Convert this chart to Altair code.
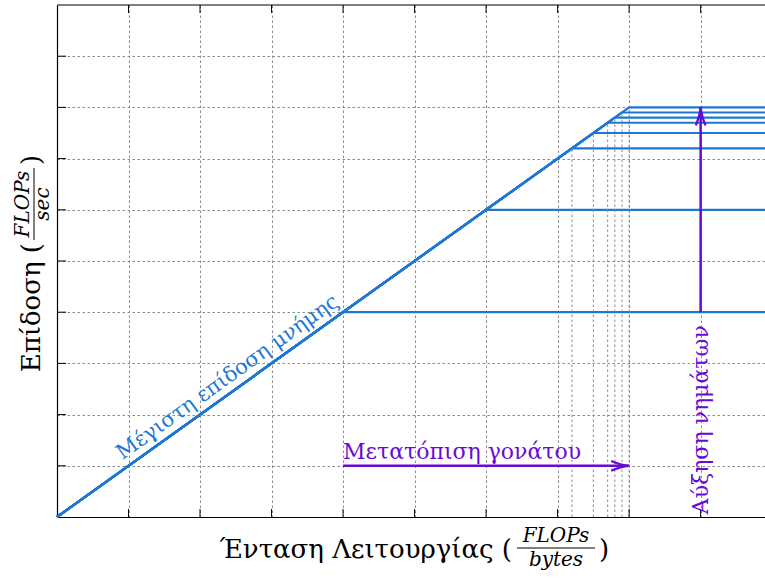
import altair as alt
import pandas as pd

# Roofline model: memory-bound slope y = x and a compute ceiling for each knee
knees = [4.0, 6.0, 7.2, 7.5, 7.7, 7.8, 7.9, 8.0]
x_max = 9.9
y_max = 10.0
grid_ticks = [1, 2, 3, 4, 5, 6, 7, 8, 9]

# Annotation arrows (data coordinates)
shift_from, shift_to, shift_y = 4.0, 8.0, 1.0      # knee shift arrow
threads_x, threads_from, threads_to = 9.0, 4.0, 8.0  # thread increase arrow

BLUE = "#1f77d4"
VIOLET = "#6a0ad8"
GRID = "#8c8c8c"
FONT = "DejaVu Serif"
W, H = 708, 512

roof_rows = []
for i, k in enumerate(knees):
    roof_rows += [
        {"roof": i, "step": 0, "x": 0.0, "y": 0.0},
        {"roof": i, "step": 1, "x": k, "y": k},
        {"roof": i, "step": 2, "x": x_max, "y": k},
    ]
roofs = pd.DataFrame(roof_rows)

xscale = alt.Scale(domain=[0, x_max], nice=False, zero=False)
yscale = alt.Scale(domain=[0, y_max], nice=False, zero=False)

axis_common = dict(
    values=grid_ticks, grid=True, gridDash=[2.5, 2.5], gridColor=GRID,
    gridWidth=1, gridOpacity=1, labels=False, ticks=False,
    domainColor="black", domainWidth=1.2, title=None,
)

lines = alt.Chart(roofs).mark_line(color=BLUE, strokeWidth=2.2).encode(
    x=alt.X("x:Q", scale=xscale, axis=alt.Axis(**axis_common)),
    y=alt.Y("y:Q", scale=yscale, axis=alt.Axis(**axis_common)),
    detail="roof:N",
    order="step:Q",
)

knee_df = pd.DataFrame({"k": knees[2:], "base": [0.0] * len(knees[2:])})
drops = alt.Chart(knee_df).mark_rule(color=GRID, strokeDash=[2.5, 2.5], strokeWidth=1).encode(
    x="k:Q", y="base:Q", y2="k:Q"
)

tick_df = pd.DataFrame({"t": grid_ticks})
ticks_bottom = alt.Chart(tick_df).mark_rule(color="black", strokeWidth=1).encode(
    x="t:Q", y=alt.value(H), y2=alt.value(H - 8)
)
ticks_top = alt.Chart(tick_df).mark_rule(color="black", strokeWidth=1).encode(
    x="t:Q", y=alt.value(0), y2=alt.value(8)
)
ticks_left = alt.Chart(tick_df).mark_rule(color="black", strokeWidth=1).encode(
    y="t:Q", x=alt.value(0), x2=alt.value(9)
)
top_border = alt.Chart(pd.DataFrame({"y": [y_max], "x": [0.0], "x2": [x_max]})).mark_rule(
    color="black", strokeWidth=1.2
).encode(y="y:Q", x="x:Q", x2="x2:Q")

# Arrows
h_arrow_df = pd.DataFrame({"x": [shift_from], "x2": [shift_to], "y": [shift_y]})
h_shaft = alt.Chart(h_arrow_df).mark_rule(color=VIOLET, strokeWidth=2.5).encode(
    x="x:Q", x2="x2:Q", y="y:Q"
)
v_arrow_df = pd.DataFrame({"x": [threads_x], "y": [threads_from], "y2": [threads_to]})
v_shaft = alt.Chart(v_arrow_df).mark_rule(color=VIOLET, strokeWidth=2.5).encode(
    x="x:Q", y="y:Q", y2="y2:Q"
)
head_path = "M-1,-0.27 Q-0.45,-0.04 0,0 Q-0.45,0.04 -1,0.27"
heads_df = pd.DataFrame({"x": [shift_to, threads_x], "y": [shift_y, threads_to], "ang": [0, 270]})
heads = alt.Chart(heads_df).mark_point(
    shape=head_path, filled=False, color=VIOLET, strokeWidth=2.3, size=1296, opacity=1
).encode(x="x:Q", y="y:Q", angle=alt.Angle("ang:Q", scale=None))

# Annotation labels
diag_label = alt.Chart(pd.DataFrame({"x": [2.5], "y": [2.5], "t": ["Μέγιστη επίδοση μνήμης"]})).mark_text(
    font=FONT, fontSize=21, color=BLUE, angle=324.4, align="center", baseline="alphabetic", dy=-8
).encode(x="x:Q", y="y:Q", text="t:N")

shift_label = alt.Chart(pd.DataFrame({"x": [shift_from], "y": [shift_y], "t": ["Μετατόπιση γονάτου"]})).mark_text(
    font=FONT, fontSize=22, color=VIOLET, align="left", baseline="alphabetic", dy=-7
).encode(x="x:Q", y="y:Q", text="t:N")

threads_label = alt.Chart(pd.DataFrame({"x": [threads_x], "y": [1.9], "t": ["Αύξηση νημάτων"]})).mark_text(
    font=FONT, fontSize=22, color=VIOLET, angle=270, align="center", baseline="middle"
).encode(x="x:Q", y="y:Q", text="t:N")

# Axis titles with stacked fractions (pixel offsets from the plot origin)
def txt(text, x, y, size, italic=False, align="center", angle=0):
    df = pd.DataFrame({"t": [text]})
    return alt.Chart(df).mark_text(
        font=FONT, fontSize=size, fontStyle="italic" if italic else "normal",
        color="black", align=align, baseline="alphabetic", angle=angle,
    ).encode(x=alt.value(x), y=alt.value(y), text="t:N")

def hbar(x, x2, y):
    return alt.Chart(pd.DataFrame({"a": [0]})).mark_rule(color="black", strokeWidth=1).encode(
        x=alt.value(x), x2=alt.value(x2), y=alt.value(y)
    )

def vbar(x, y, y2):
    return alt.Chart(pd.DataFrame({"a": [0]})).mark_rule(color="black", strokeWidth=1).encode(
        x=alt.value(x), y=alt.value(y), y2=alt.value(y2)
    )

x_title = [
    txt("Ένταση Λειτουργίας (", 455, 553, 26, align="right"),
    txt("FLOPs", 499, 537, 20, italic=True),
    hbar(460, 538, 543),
    txt("bytes", 499, 561, 20, italic=True),
    txt(")", 542, 553, 26, align="left"),
]
y_title = [
    txt("Επίδοση (", -17, 238, 26, align="right", angle=270),
    txt("FLOPs", -28, 199, 20, italic=True, angle=270),
    vbar(-23, 235, 163),
    txt("sec", -8, 199, 20, italic=True, angle=270),
    txt(")", -17, 160, 26, align="left", angle=270),
]

chart = alt.layer(
    lines, drops, ticks_bottom, ticks_top, ticks_left, top_border,
    diag_label, shift_label, h_shaft, threads_label, v_shaft, heads,
    *x_title, *y_title,
).properties(
    width=W, height=H,
    autosize=alt.AutoSizeParams(type="none"),
    padding={"left": 57, "top": 5, "right": 0, "bottom": 63},
).configure_view(stroke=None)

chart.save("out.html", embed_options={"renderer": "svg", "actions": False})
